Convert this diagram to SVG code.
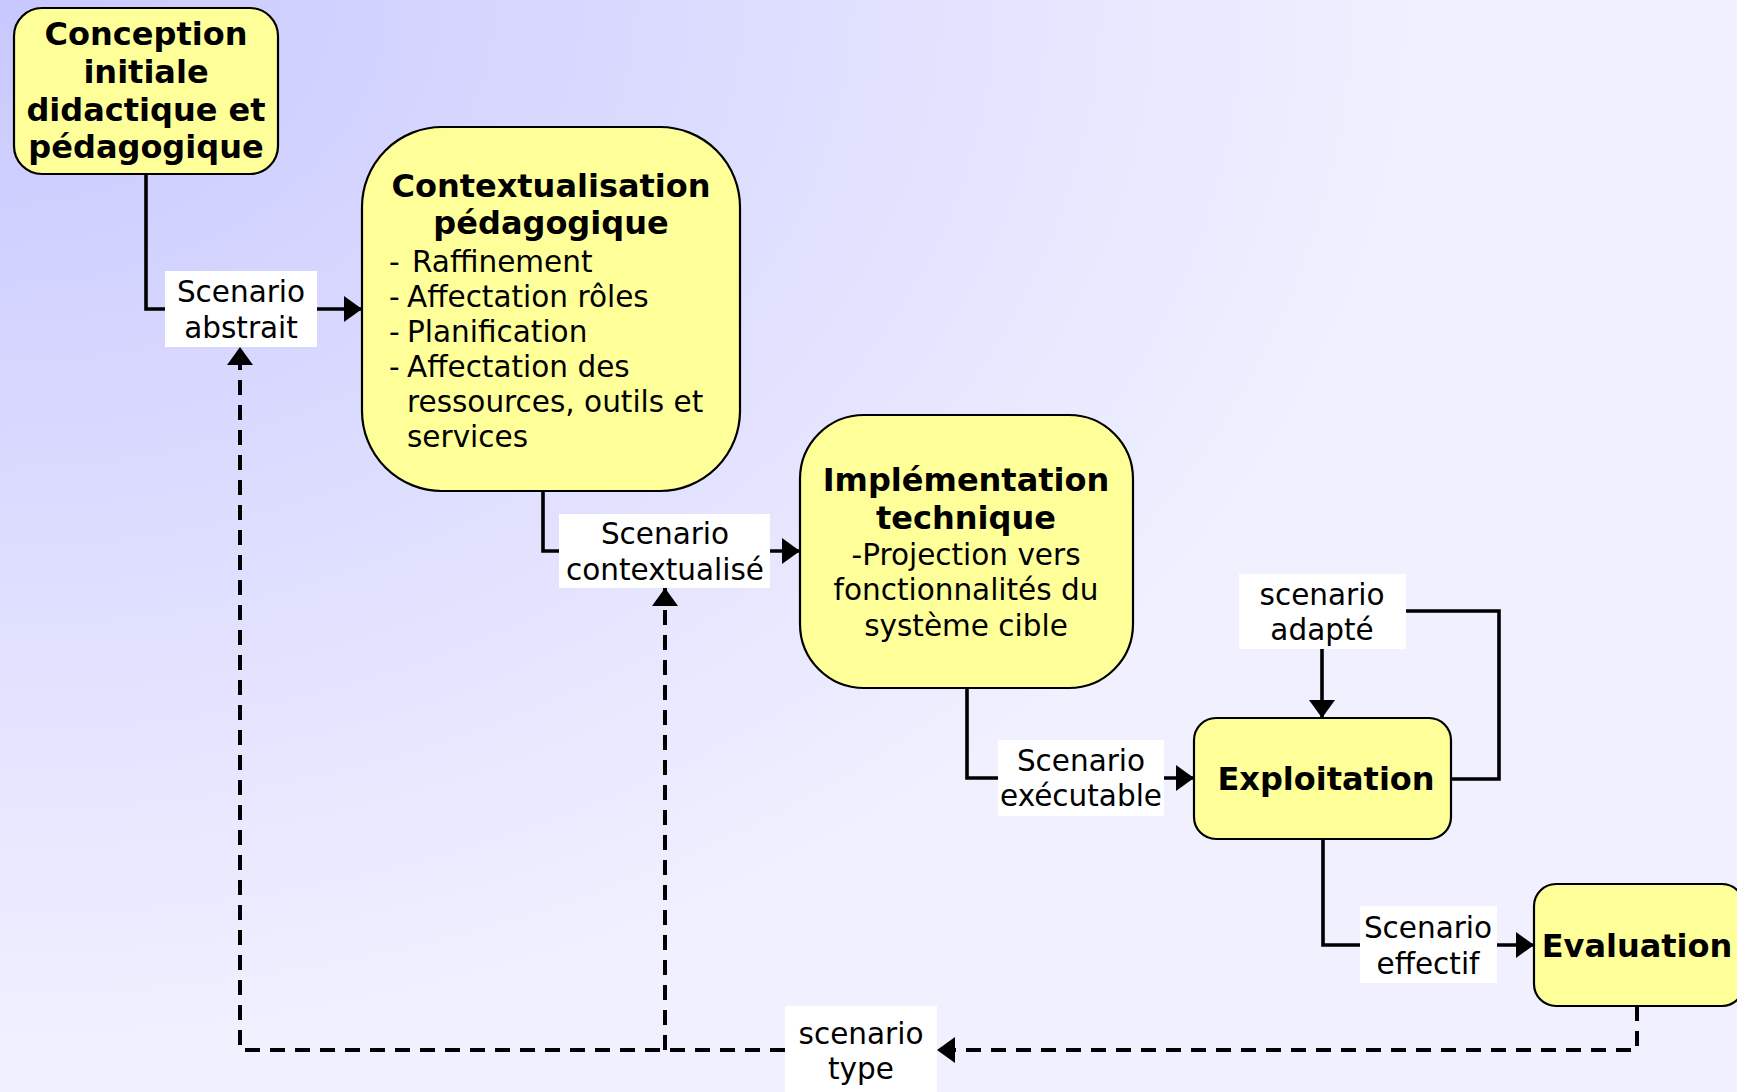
<svg xmlns="http://www.w3.org/2000/svg" width="1737" height="1092" viewBox="0 0 1737 1092">
  <defs>
    <radialGradient id="bg" gradientUnits="userSpaceOnUse" cx="0" cy="0" r="1050" gradientTransform="scale(1.36 1)">
      <stop offset="0" stop-color="#c8c8ff"/>
      <stop offset="1" stop-color="#f0f0ff"/>
    </radialGradient>
    <marker id="arrow" markerUnits="userSpaceOnUse" markerWidth="20" markerHeight="28" refX="18" refY="13" orient="auto">
      <path d="M0,0 L18,13 L0,26 Z" fill="#000"/>
    </marker>
    <style>
      .box { fill: #ffff99; stroke: #000; stroke-width: 2.2; }
      .title { font-family: "DejaVu Sans", Verdana, sans-serif; font-weight: bold; font-size: 32px; fill: #000; text-anchor: middle; }
      .txt { font-family: "DejaVu Sans", Verdana, sans-serif; font-size: 29.5px; fill: #000; }
      .mid { text-anchor: middle; }
      .line { fill: none; stroke: #000; stroke-width: 3.6; }
      .dash { fill: none; stroke: #000; stroke-width: 4; stroke-dasharray: 15 10; }
      .lbl { fill: #fff; }
    </style>
  </defs>

  <rect width="1737" height="1092" fill="url(#bg)"/>

  <!-- connectors -->
  <g id="connectors">
    <path class="line" d="M146,174 V309 H362" marker-end="url(#arrow)"/>
    <path class="line" d="M543,491 V551 H800" marker-end="url(#arrow)"/>
    <path class="line" d="M967,688 V778 H1194" marker-end="url(#arrow)"/>
    <path class="line" d="M1323,839 V945 H1534" marker-end="url(#arrow)"/>
    <path class="line" d="M1322,649 V718" marker-end="url(#arrow)"/>
    <path class="line" d="M1451,779 H1499 V611 H1406"/>
    <path class="dash" d="M1637,1006 V1050 H937" marker-end="url(#arrow)"/>
    <path class="dash" d="M785,1050 H240 V347" marker-end="url(#arrow)"/>
    <path class="dash" d="M665,1050 V588" marker-end="url(#arrow)"/>

    <!-- connector labels -->
    <g id="label-abstrait">
      <rect class="lbl" x="165" y="271" width="152" height="76"/>
      <text class="txt mid" x="241" y="302">Scenario</text>
      <text class="txt mid" x="241" y="338">abstrait</text>
    </g>
    <g id="label-contextualise">
      <rect class="lbl" x="559" y="514" width="211" height="74"/>
      <text class="txt mid" x="665" y="544">Scenario</text>
      <text class="txt mid" x="665" y="580">contextualisé</text>
    </g>
    <g id="label-executable">
      <rect class="lbl" x="998" y="740" width="166" height="76"/>
      <text class="txt mid" x="1081" y="771">Scenario</text>
      <text class="txt mid" x="1081" y="806">exécutable</text>
    </g>
    <g id="label-adapte">
      <rect class="lbl" x="1239" y="574" width="167" height="75"/>
      <text class="txt mid" x="1322" y="605">scenario</text>
      <text class="txt mid" x="1322" y="640">adapté</text>
    </g>
    <g id="label-effectif">
      <rect class="lbl" x="1360" y="906" width="137" height="77"/>
      <text class="txt mid" x="1428" y="938">Scenario</text>
      <text class="txt mid" x="1428" y="974">effectif</text>
    </g>
    <g id="label-type">
      <rect class="lbl" x="785" y="1006" width="152" height="90"/>
      <text class="txt mid" x="861" y="1044">scenario</text>
      <text class="txt mid" x="861" y="1079">type</text>
    </g>
  </g>

  <!-- nodes -->
  <g id="conception">
    <rect class="box" x="14" y="8" width="264" height="166" rx="28"/>
    <text class="title" x="146" y="45">Conception</text>
    <text class="title" x="146" y="83">initiale</text>
    <text class="title" x="146" y="121">didactique et</text>
    <text class="title" x="146" y="158">pédagogique</text>
  </g>

  <g id="contextualisation">
    <rect class="box" x="362" y="127" width="378" height="364" rx="80"/>
    <text class="title" x="551" y="197">Contextualisation</text>
    <text class="title" x="551" y="234">pédagogique</text>
    <text class="txt" x="389" y="272">-</text>
    <text class="txt" x="412" y="272">Raffinement</text>
    <text class="txt" x="389" y="307">-</text>
    <text class="txt" x="407" y="307">Affectation rôles</text>
    <text class="txt" x="389" y="342">-</text>
    <text class="txt" x="407" y="342">Planification</text>
    <text class="txt" x="389" y="377">-</text>
    <text class="txt" x="407" y="377">Affectation des</text>
    <text class="txt" x="407" y="412">ressources, outils et</text>
    <text class="txt" x="407" y="447">services</text>
  </g>

  <g id="implementation">
    <rect class="box" x="800" y="415" width="333" height="273" rx="64"/>
    <text class="title" x="966" y="491">Implémentation</text>
    <text class="title" x="966" y="529">technique</text>
    <text class="txt mid" x="966" y="565">-Projection vers</text>
    <text class="txt mid" x="966" y="600">fonctionnalités du</text>
    <text class="txt mid" x="966" y="636">système cible</text>
  </g>

  <g id="exploitation">
    <rect class="box" x="1194" y="718" width="257" height="121" rx="22"/>
    <text class="title" x="1326" y="790">Exploitation</text>
  </g>

  <g id="evaluation">
    <rect class="box" x="1534" y="884" width="210" height="122" rx="22"/>
    <text class="title" x="1637" y="957">Evaluation</text>
  </g>
</svg>
